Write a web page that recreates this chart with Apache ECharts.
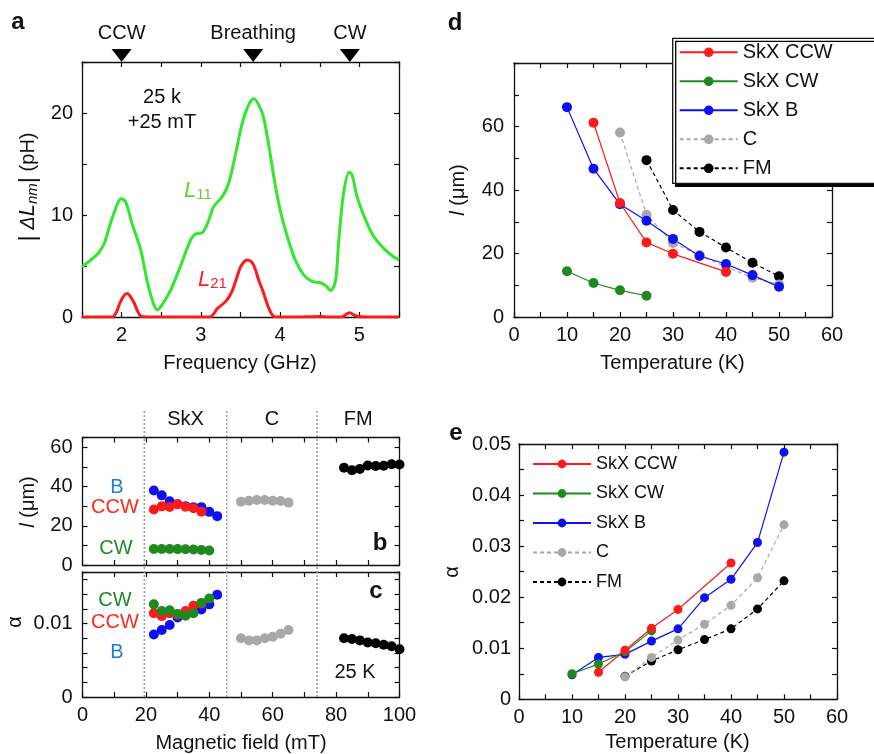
<!DOCTYPE html>
<html><head><meta charset="utf-8">
<script src="https://cdn.jsdelivr.net/npm/echarts@6/dist/echarts.min.js"></script>
<style>html,body{margin:0;padding:0;background:#fff}#c{width:874px;height:754px}</style>
</head><body><div id="c"></div><script>
// ---------- data ----------
// panel a : |ΔL| spectra (pH) vs frequency (GHz)
const freqL11 = [1.50,1.61,1.71,1.78,1.86,1.95,1.99,2.05,2.13,2.24,2.32,2.40,2.45,2.51,2.62,2.74,2.87,2.93,3.02,3.10,3.16,3.27,3.35,3.44,3.50,3.56,3.63,3.67,3.73,3.79,3.86,3.92,4.00,4.09,4.19,4.30,4.40,4.51,4.57,4.64,4.70,4.74,4.80,4.87,4.91,4.97,5.08,5.18,5.31,5.43,5.50];
const valL11  = [4.93,5.59,6.3,7.2,9.2,11.15,11.6,11.3,9.2,6.6,3.6,1.34,0.7,1.18,2.65,4.93,7.55,8.14,8.27,9.5,10.8,11.8,13.1,16.05,18.3,19.97,21.2,21.4,20.8,19.6,16.7,13.75,10.5,7.9,5.6,4.1,3.5,3.36,3.1,2.6,3.6,7.5,12.1,14.2,13.9,11.8,9.5,7.9,6.7,5.9,5.6];
const freqL21 = [1.50,1.70,1.88,1.93,1.97,2.02,2.07,2.12,2.16,2.20,2.25,2.40,2.80,3.12,3.17,3.21,3.29,3.35,3.40,3.45,3.50,3.55,3.59,3.65,3.69,3.73,3.78,3.82,3.86,3.90,3.95,4.20,4.50,4.62,4.78,4.84,4.88,4.93,4.98,5.10,5.50];
const valL21  = [0,0,0,0.4,1.2,2.0,2.3,1.9,1.35,0.6,0.05,0,0,0,0.4,0.85,1.35,1.9,2.65,3.8,4.9,5.45,5.6,5.3,4.6,3.6,2.6,1.67,0.8,0.2,0,0,0.05,0,0,0.3,0.42,0.2,0.05,0,0];
const modeFreqs = [2.0, 3.66, 4.88];
const modeNames = ['CCW', 'Breathing', 'CW'];

// panel d : l (μm) vs temperature (K)
const tD_CCW = [15,20,25,30,40];            const lD_CCW = [61.2,35.9,23.5,19.9,14.2];
const tD_CW  = [10,15,20,25];               const lD_CW  = [14.4,10.7,8.4,6.7];
const tD_B   = [10,15,20,25,30,35,40,45,50]; const lD_B  = [66.1,46.7,35.5,30.3,24.6,19.2,16.7,13.2,9.5];
const tD_C   = [20,25,30,35,40,45,50];      const lD_C   = [58.1,32.2,23.3,19.5,15.8,12.4,10.2];
const tD_FM  = [25,30,35,40,45,50];         const lD_FM  = [49.4,33.7,26.8,21.9,17.1,12.8];

// panel e : α vs temperature (K)
const tE_CCW = [15,20,25,30,40];             const aE_CCW = [0.0053,0.0096,0.0139,0.0176,0.0267];
const tE_CW  = [10,15,20,25];                const aE_CW  = [0.0050,0.0069,0.0093,0.0134];
const tE_B   = [10,15,20,25,30,35,40,45,50]; const aE_B   = [0.0048,0.0082,0.0088,0.0114,0.0138,0.0199,0.0235,0.0307,0.0484];
const tE_C   = [20,25,30,35,40,45,50];       const aE_C   = [0.0044,0.0082,0.0116,0.0147,0.0184,0.0238,0.0342];
const tE_FM  = [20,25,30,35,40,45,50];       const aE_FM  = [0.0045,0.0075,0.0097,0.0117,0.0138,0.0177,0.0232];

// panels b, c : vs magnetic field (mT) at 25 K
const hSkX_B   = [22.5,25,27.5,30,32.5,35,37.5,40,42.5];
const hSkX_CCW = [22.5,25,27.5,30,32.5,35,37.5];
const hSkX_CW  = [22.5,25,27.5,30,32.5,35,37.5,40];
const hC       = [50,52.5,55,57.5,60,62.5,65];
const hFM      = [82.5,85,87.5,90,92.5,95,97.5,100];
const lB_B   = [38.0,35.5,32.5,31.0,30.0,29.4,29.5,27.1,24.9];
const lB_CCW = [28.3,29.9,29.6,31.0,29.7,28.9,27.2];
const lB_CW  = [8.2,8.2,8.2,8.1,8.0,7.9,7.7,7.4];
const lB_C   = [32.3,32.8,33.1,33.1,32.8,32.6,31.8];
const lB_FM  = [49.6,48.3,49.0,50.7,50.5,50.6,51.4,51.2];
const aC_B   = [0.0085,0.0091,0.0098,0.0108,0.0111,0.0115,0.0119,0.0126,0.0139];
const aC_CCW = [0.0114,0.0110,0.0114,0.0112,0.0117,0.0124,0.0127];
const aC_CW  = [0.0126,0.0117,0.0118,0.0113,0.0111,0.0114,0.0128,0.0134];
const aC_C   = [0.0080,0.0077,0.0077,0.0080,0.0082,0.0086,0.0091];
const aC_FM  = [0.0080,0.0079,0.0077,0.0074,0.0073,0.0071,0.0069,0.0065];
const phaseBounds = [19.5, 45.5, 74];
const phaseNames  = ['SkX', 'C', 'FM'];
const phaseCenters = [32.5, 59.75, 87];

// ---------- style ----------
const FONT = "'Liberation Sans', Arial, Helvetica, sans-serif";
const INK = '#111111';
const COL = {CCW:'#ff1a1a', CW:'#1e8a1e', B:'#1010f5', C:'#a8a8a8', FM:'#000000'};

const grids = [
  {left:82,   top:62,    width:317, height:255},   // a
  {left:514,  top:63,    width:318, height:254},   // d
  {left:82.5, top:437.5, width:317, height:127.5}, // b
  {left:82.5, top:572,   width:317, height:125},   // c
  {left:519,  top:444,   width:318, height:255.3}, // e
  {left:82.5, top:409,   width:317, height:288}    // phase boundaries (b+c)
].map(g => Object.assign({outerBoundsMode:'none', containLabel:false}, g));

const xAxes = [], yAxes = [];
function lbl(fmt, margin){
  return fmt ? {show:true, formatter:fmt, margin:margin, fontSize:20, color:INK, fontFamily:FONT}
             : {show:false};
}
function addAxes(gi, xr, yr, xfmt, yfmt, xm, ym){
  const common = () => ({type:'value', gridIndex:gi, splitLine:{show:false},
    axisLine:{show:true, onZero:false, lineStyle:{color:INK, width:1.3}},
    axisTick:{show:true, inside:true, length:5, lineStyle:{color:INK, width:1.2}}});
  xAxes.push(Object.assign(common(), {position:'bottom', min:xr[0], max:xr[1], interval:xr[2], axisLabel:lbl(xfmt, xm)}));
  xAxes.push(Object.assign(common(), {position:'top',    min:xr[0], max:xr[1], interval:xr[2], axisLabel:{show:false}}));
  yAxes.push(Object.assign(common(), {position:'left',   min:yr[0], max:yr[1], interval:yr[2], axisLabel:lbl(yfmt, ym)}));
  yAxes.push(Object.assign(common(), {position:'right',  min:yr[0], max:yr[1], interval:yr[2], axisLabel:{show:false}}));
}
const near = (v, s) => Math.abs(v/s - Math.round(v/s)) < 1e-6;
addAxes(0, [1.5,5.5,0.5], [0,25,5], v => near(v,1) ? String(Math.round(v)) : '', v => (near(v,10) && v < 24) ? String(Math.round(v)) : '', 8, 9);
addAxes(1, [0,60,5], [0,80,10], v => near(v,10) ? String(Math.round(v)) : '', v => (near(v,20) && v < 70) ? String(Math.round(v)) : '', 8, 10);
addAxes(2, [0,100,10], [0,65,10], null, v => (near(v,20) && v < 62) ? String(Math.round(v)) : '', 8, 10);
addAxes(3, [0,100,10], [0,0.017,0.002], v => near(v,20) ? String(Math.round(v)) : '', v => (Math.abs(v) < 1e-9 ? '0' : (Math.abs(v-0.01) < 1e-9 ? '0.01' : '')), 8, 10);
addAxes(4, [0,60,5], [0,0.05,0.005], v => near(v,10) ? String(Math.round(v)) : '', v => { const k = Math.round(v*1000); return (k % 10 === 0) ? (k === 0 ? '0' : (k/1000).toFixed(2)) : ''; }, 8, 8);
xAxes.push({type:'value', gridIndex:5, min:0, max:100, show:false});
yAxes.push({type:'value', gridIndex:5, min:0, max:1, show:false});

const pairs = (xs, ys) => xs.map((x, i) => [x, ys[i]]);
const series = [];

// panel a
series.push({type:'line', name:'L11', xAxisIndex:0, yAxisIndex:0, data:pairs(freqL11, valL11), smooth:0.3,
  symbol:'none', lineStyle:{color:'#33e62e', width:3}, z:3, silent:true});
series.push({type:'line', name:'L21', xAxisIndex:0, yAxisIndex:0, data:pairs(freqL21, valL21), smooth:0.3,
  symbol:'none', lineStyle:{color:'#ff1a1a', width:3}, z:4, silent:true});
const markerLevel = 25.64;
series.push({type:'scatter', xAxisIndex:0, yAxisIndex:0, clip:false, silent:true,
  symbol:'path://M0,0L20,0L10,13Z', symbolSize:[20,13], itemStyle:{color:'#000', opacity:1},
  data: modeFreqs.map((f, i) => ({value:[f, markerLevel], name:modeNames[i]})),
  label:{show:true, position:'top', distance:5, formatter:'{b}', fontSize:20, color:INK, fontFamily:FONT, opacity:1}});

// panels d and e (drawing order FM, C, B, CW, CCW)
function tempSeries(xi, size, nameKey, xs, ys){
  const dashed = (nameKey === 'C' || nameKey === 'FM');
  const names = {CCW:'SkX CCW', CW:'SkX CW', B:'SkX B', C:'C', FM:'FM'};
  return {type:'line', name:names[nameKey], xAxisIndex:xi, yAxisIndex:xi, data:pairs(xs, ys),
    symbol:'circle', symbolSize:size, showSymbol:true, silent:true,
    itemStyle:{color:COL[nameKey], opacity:1, borderWidth:0},
    lineStyle:{color:COL[nameKey], width:1.2, type: dashed ? [4,3] : 'solid'}};
}
series.push(tempSeries(2, 10, 'FM', tD_FM, lD_FM));
series.push(tempSeries(2, 10, 'C', tD_C, lD_C));
series.push(tempSeries(2, 10, 'B', tD_B, lD_B));
series.push(tempSeries(2, 10, 'CW', tD_CW, lD_CW));
series.push(tempSeries(2, 10, 'CCW', tD_CCW, lD_CCW));
series.push(tempSeries(8, 9, 'FM', tE_FM, aE_FM));
series.push(tempSeries(8, 9, 'C', tE_C, aE_C));
series.push(tempSeries(8, 9, 'B', tE_B, aE_B));
series.push(tempSeries(8, 9, 'CW', tE_CW, aE_CW));
series.push(tempSeries(8, 9, 'CCW', tE_CCW, aE_CCW));

// panels b and c
function fieldSeries(xi, key, xs, ys){
  return {type:'scatter', xAxisIndex:xi, yAxisIndex:xi, data:pairs(xs, ys), symbolSize:10, silent:true,
    itemStyle:{color:COL[key], opacity:1, borderWidth:0}};
}
series.push(fieldSeries(4, 'B', hSkX_B, lB_B));
series.push(fieldSeries(4, 'CCW', hSkX_CCW, lB_CCW));
series.push(fieldSeries(4, 'CW', hSkX_CW, lB_CW));
series.push(fieldSeries(4, 'C', hC, lB_C));
series.push(fieldSeries(4, 'FM', hFM, lB_FM));
series.push(fieldSeries(6, 'B', hSkX_B, aC_B));
series.push(fieldSeries(6, 'CCW', hSkX_CCW, aC_CCW));
series.push(fieldSeries(6, 'CW', hSkX_CW, aC_CW));
series.push(fieldSeries(6, 'C', hC, aC_C));
series.push(fieldSeries(6, 'FM', hFM, aC_FM));

// phase boundaries
phaseBounds.forEach(b => series.push({type:'line', xAxisIndex:10, yAxisIndex:10, data:[[b,0],[b,1]],
  symbol:'none', silent:true, z:1, lineStyle:{color:'#9a9a9a', width:1.5, type:[2,2]}}));
series.push({type:'scatter', xAxisIndex:10, yAxisIndex:10, symbolSize:0, silent:true,
  itemStyle:{opacity:1},
  data: phaseCenters.map((c, i) => ({value:[c, 0.962], name:phaseNames[i]})),
  label:{show:true, position:'inside', formatter:'{b}', fontSize:20, color:INK, fontFamily:FONT, opacity:1}});

// ---------- text ----------
function txt(x, y, text, size, opts){
  return Object.assign({type:'text', x:x, y:y, silent:true, style:Object.assign({text:text,
    font: (opts && opts.bold ? 'bold ' : '') + size + 'px ' + FONT, fill:(opts && opts.fill) || INK,
    align:'center', verticalAlign:'middle'}, (opts && opts.style) || {})}, (opts && opts.el) || {});
}
const rot = {rotation: Math.PI/2};
const graphic = [
  txt(18, 22, 'a', 24, {bold:true}),
  txt(455, 23, 'd', 24, {bold:true}),
  txt(456, 433, 'e', 24, {bold:true}),
  txt(380, 543, 'b', 24, {bold:true}),
  txt(376, 591, 'c', 24, {bold:true}),
  txt(162, 97, '25 k', 20),
  txt(162, 122, '+25 mT', 20),
  txt(355, 672, '25 K', 20),
  txt(240, 363, 'Frequency (GHz)', 20),
  txt(672.5, 363, 'Temperature (K)', 20),
  txt(241, 743, 'Magnetic field (mT)', 20),
  txt(677.5, 742, 'Temperature (K)', 20),
  txt(117, 487, 'B', 20, {fill:'#1f7ad8'}),
  txt(115, 507, 'CCW', 20, {fill:'#ff2a14'}),
  txt(116, 548, 'CW', 20, {fill:'#1e8a2a'}),
  txt(115, 600, 'CW', 20, {fill:'#1e8a2a'}),
  txt(115, 622, 'CCW', 20, {fill:'#ff2a14'}),
  txt(117, 652, 'B', 20, {fill:'#1f7ad8'}),
  txt(15, 622, 'α', 20, {el:rot}),
  txt(452, 572, 'α', 20, {el:rot}),
  // L11 / L21 labels
  txt(184, 190.7, '{L|L}{s|11}', 22, {fill:'#66cc33', style:{align:'left', rich:{
    L:{fontStyle:'italic', fontSize:22, fontFamily:FONT, lineHeight:24, fill:'#66cc33'},
    s:{fontSize:15, fontFamily:FONT, lineHeight:12, verticalAlign:'bottom', fill:'#66cc33'}}}}),
  txt(198, 279.4, '{L|L}{s|21}', 22, {fill:'#ff2020', style:{align:'left', rich:{
    L:{fontStyle:'italic', fontSize:22, fontFamily:FONT, lineHeight:24, fill:'#ff2020'},
    s:{fontSize:15, fontFamily:FONT, lineHeight:12, verticalAlign:'bottom', fill:'#ff2020'}}}}),
  // y axis names
  txt(28, 187, '{bar||}{d| Δ}{L|L}{s|nm}{bar||}{n| (pH)}', 20, {el:rot, style:{rich:{
    bar:{fontSize:24, fontFamily:FONT, lineHeight:24, fill:INK},
    d:{fontSize:20, fontStyle:'italic', fontFamily:FONT, lineHeight:24, fill:INK},
    L:{fontSize:22, fontStyle:'italic', fontFamily:FONT, lineHeight:24, fill:INK},
    s:{fontSize:15, fontStyle:'italic', fontFamily:FONT, lineHeight:12, verticalAlign:'bottom', fill:INK},
    n:{fontSize:20, fontFamily:FONT, lineHeight:24, fill:INK}}}}),
  txt(458, 190, '{i|l}{n| (μm)}', 20, {el:rot, style:{rich:{
    i:{fontSize:20, fontStyle:'italic', fontFamily:FONT, fill:INK},
    n:{fontSize:20, fontFamily:FONT, fill:INK}}}}),
  txt(28, 502, '{i|l}{n| (μm)}', 20, {el:rot, style:{rich:{
    i:{fontSize:20, fontStyle:'italic', fontFamily:FONT, fill:INK},
    n:{fontSize:20, fontFamily:FONT, fill:INK}}}})
];

const legendNames = ['SkX CCW', 'SkX CW', 'SkX B', 'C', 'FM'];
const option = {
  animation:false,
  backgroundColor:'#ffffff',
  grid:grids, xAxis:xAxes, yAxis:yAxes, series:series, graphic:graphic,
  legend:[
    {data:legendNames, orient:'vertical', left:672.7, top:38.3, itemWidth:58, itemHeight:12, itemGap:9,
     selectedMode:false, padding:[4,60,5,6], backgroundColor:'#ffffff', borderColor:INK, borderWidth:1.3,
     shadowColor:'#000', shadowBlur:0, shadowOffsetX:3, shadowOffsetY:3,
     textStyle:{fontSize:20, lineHeight:20, color:INK, fontFamily:FONT}},
    {data:legendNames, orient:'vertical', left:532, top:455, itemWidth:58, itemHeight:11, itemGap:11.5,
     selectedMode:false, padding:0,
     textStyle:{fontSize:18, lineHeight:18, color:INK, fontFamily:FONT}}
  ]
};
const chart = echarts.init(document.getElementById('c'), null, {renderer:'canvas'});
chart.setOption(option);
</script></body></html>
